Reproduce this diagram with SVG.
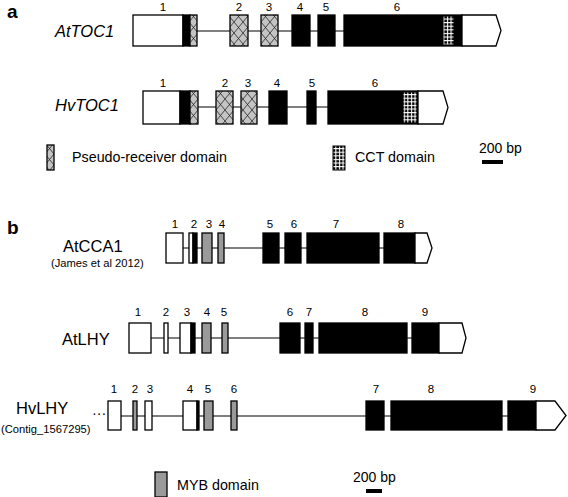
<svg xmlns="http://www.w3.org/2000/svg" width="568" height="497" viewBox="0 0 568 497">
<defs>
<pattern id="xh" patternUnits="userSpaceOnUse" width="9" height="11">
<rect width="9" height="11" fill="#c4c4c4"/>
<path d="M0,0 L9,11 M9,0 L0,11" stroke="#222" stroke-width="0.8"/>
</pattern>
<pattern id="grid" patternUnits="userSpaceOnUse" width="3.6" height="3.6" x="0.5" y="0.5">
<rect width="3.6" height="3.6" fill="#000"/>
<rect x="0" y="0" width="3.6" height="1.1" fill="#fff"/>
<rect x="0" y="0" width="1.1" height="3.6" fill="#fff"/>
</pattern>
<style>
text{font-family:"Liberation Sans",Arial,sans-serif;fill:#000}
.n{font-size:11.5px;text-anchor:middle}
.g{font-size:16.5px}
.gi{font-size:16.5px;font-style:italic}
.s{font-size:11.2px}
.l{font-size:14.3px}
.p{font-size:19px;font-weight:bold}
.ln{stroke:#000;stroke-width:1.2;fill:none}
.w{fill:#fff;stroke:#000;stroke-width:1.3}
.k{fill:#000;stroke:#000;stroke-width:1.3}
.m{fill:#9a9a9a;stroke:#000;stroke-width:1.3}
.x{fill:url(#xh);stroke:#000;stroke-width:1.3}
.c{fill:url(#grid);stroke:#000;stroke-width:1}
</style>
</defs>
<rect width="568" height="497" fill="#fff"/>

<text class="p" x="7" y="18">a</text>
<text class="p" x="7" y="234">b</text>

<g id="connectors">
<line class="ln" x1="183" y1="31" x2="344" y2="31"/>
<line class="ln" x1="180" y1="107" x2="328" y2="107"/>
<line class="ln" x1="183" y1="248" x2="384" y2="248"/>
<line class="ln" x1="151" y1="338" x2="412" y2="338"/>
<line class="ln" x1="121" y1="416" x2="508" y2="416"/>
</g>

<g id="AtTOC1">
<text class="gi" x="55" y="37">AtTOC1</text>
<rect class="w" x="133" y="15" width="50" height="31"/>
<rect class="k" x="183" y="15" width="7" height="31"/>
<rect class="x" x="190" y="15" width="7" height="31"/>
<rect class="x" x="230" y="15" width="18" height="31"/>
<rect class="x" x="261" y="15" width="17" height="31"/>
<rect class="k" x="292" y="15" width="18" height="31"/>
<rect class="k" x="318" y="15" width="17" height="31"/>
<rect class="k" x="344" y="15" width="118" height="31"/>
<path class="w" d="M462,15 H496 L501,30.5 L496,46 H462 Z"/>
<rect class="c" x="443" y="16" width="11" height="29"/>
<text class="n" x="163" y="11">1</text>
<text class="n" x="239" y="11">2</text>
<text class="n" x="269" y="11">3</text>
<text class="n" x="300" y="11">4</text>
<text class="n" x="326" y="11">5</text>
<text class="n" x="397" y="11">6</text>
</g>

<g id="HvTOC1">
<text class="gi" x="55" y="111">HvTOC1</text>
<rect class="w" x="143" y="91" width="37" height="33"/>
<rect class="k" x="180" y="91" width="10" height="33"/>
<rect class="x" x="190" y="91" width="8" height="33"/>
<rect class="x" x="216" y="91" width="17" height="33"/>
<rect class="x" x="241" y="91" width="16" height="33"/>
<rect class="k" x="269" y="91" width="18" height="33"/>
<rect class="k" x="307" y="91" width="9" height="33"/>
<rect class="k" x="328" y="91" width="90" height="33"/>
<path class="w" d="M418,91 H443 L448,107.5 L443,124 H418 Z"/>
<rect class="c" x="403" y="92" width="14" height="31"/>
<text class="n" x="163" y="87">1</text>
<text class="n" x="225" y="87">2</text>
<text class="n" x="248" y="87">3</text>
<text class="n" x="277" y="87">4</text>
<text class="n" x="312" y="87">5</text>
<text class="n" x="375" y="87">6</text>
</g>

<g id="legend-a">
<rect class="x" x="47" y="145" width="7" height="25" stroke-width="1.8"/>
<text class="l" x="72" y="162">Pseudo-receiver domain</text>
<rect class="c" x="333" y="146" width="12" height="24" stroke-width="2"/>
<text class="l" x="355" y="162">CCT domain</text>
<text class="l" x="479" y="153" style="font-size:14px">200 bp</text>
<rect x="482" y="160" width="21" height="4" fill="#000"/>
</g>

<g id="AtCCA1">
<text class="g" x="63" y="252">AtCCA1</text>
<text class="s" x="51" y="267">(James et al 2012)</text>
<rect class="w" x="166" y="233" width="17" height="30"/>
<rect class="w" x="189" y="233" width="4" height="30"/>
<rect class="k" x="193" y="233" width="4" height="30"/>
<rect class="m" x="202" y="233" width="10" height="30"/>
<rect class="m" x="218" y="233" width="6" height="30"/>
<rect class="k" x="263" y="233" width="16" height="30"/>
<rect class="k" x="285" y="233" width="16" height="30"/>
<rect class="k" x="307" y="233" width="72" height="30"/>
<rect class="k" x="384" y="233" width="31" height="30"/>
<path class="w" d="M415,233 H427 L432,248 L427,263 H415 Z"/>
<text class="n" x="175" y="228">1</text>
<text class="n" x="194" y="228">2</text>
<text class="n" x="209" y="228">3</text>
<text class="n" x="222" y="228">4</text>
<text class="n" x="270" y="228">5</text>
<text class="n" x="294" y="228">6</text>
<text class="n" x="336" y="228">7</text>
<text class="n" x="401" y="228">8</text>
</g>

<g id="AtLHY">
<text class="g" x="62" y="345">AtLHY</text>
<rect class="w" x="129" y="323" width="22" height="30"/>
<rect class="w" x="164" y="323" width="4" height="30"/>
<rect class="w" x="180" y="323" width="11" height="30"/>
<rect class="k" x="191" y="323" width="4" height="30"/>
<rect class="m" x="202" y="323" width="9" height="30"/>
<rect class="m" x="222" y="323" width="6" height="30"/>
<rect class="k" x="280" y="323" width="20" height="30"/>
<rect class="k" x="305" y="323" width="8" height="30"/>
<rect class="k" x="319" y="323" width="88" height="30"/>
<rect class="k" x="412" y="323" width="27" height="30"/>
<path class="w" d="M439,323 H462 L466,338 L462,353 H439 Z"/>
<text class="n" x="138" y="316">1</text>
<text class="n" x="166" y="316">2</text>
<text class="n" x="187" y="316">3</text>
<text class="n" x="207" y="316">4</text>
<text class="n" x="224" y="316">5</text>
<text class="n" x="290" y="316">6</text>
<text class="n" x="309" y="316">7</text>
<text class="n" x="365" y="316">8</text>
<text class="n" x="425" y="316">9</text>
</g>

<g id="HvLHY">
<text class="g" x="16" y="414">HvLHY</text>
<text class="s" x="1" y="433">(Contig_1567295)</text>
<text class="l" x="92" y="418">···</text>
<rect class="w" x="108" y="401" width="13" height="29"/>
<rect class="m" x="133" y="401" width="4" height="29"/>
<rect class="w" x="145" y="401" width="7" height="29"/>
<rect class="w" x="183" y="401" width="14" height="29"/>
<rect class="k" x="197" y="401" width="2" height="29"/>
<rect class="m" x="204" y="401" width="9" height="29"/>
<rect class="m" x="231" y="401" width="6" height="29"/>
<rect class="k" x="366" y="401" width="18" height="29"/>
<rect class="k" x="391" y="401" width="111" height="29"/>
<rect class="k" x="508" y="401" width="28" height="29"/>
<path class="w" d="M536,401 H555 L566,415.5 L555,430 H536 Z"/>
<text class="n" x="114" y="393">1</text>
<text class="n" x="135" y="393">2</text>
<text class="n" x="150" y="393">3</text>
<text class="n" x="190" y="393">4</text>
<text class="n" x="208" y="393">5</text>
<text class="n" x="234" y="393">6</text>
<text class="n" x="376" y="393">7</text>
<text class="n" x="431" y="393">8</text>
<text class="n" x="533" y="393">9</text>
</g>

<g id="legend-b">
<rect class="m" x="155" y="472" width="12" height="25" stroke-width="2"/>
<text class="l" x="177" y="490">MYB domain</text>
<text class="l" x="353" y="482" style="font-size:14px">200 bp</text>
<rect x="366" y="489" width="16" height="4" fill="#000"/>
</g>
</svg>
